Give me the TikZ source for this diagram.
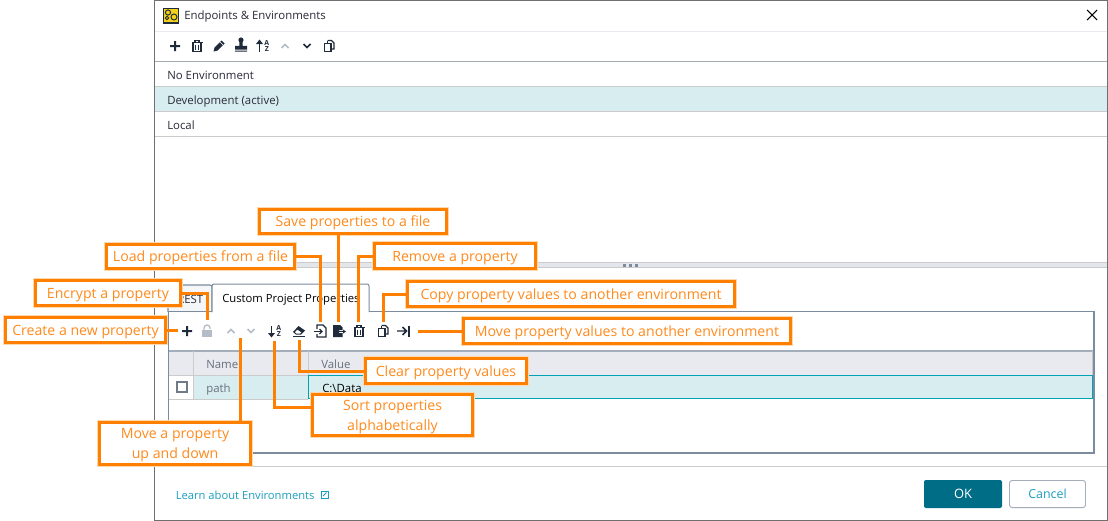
\documentclass[tikz,border=0pt]{standalone}
\usepackage{fontspec}
\setmainfont{Open Sans}
\definecolor{co}{HTML}{FF7F00}
\definecolor{cot}{HTML}{FF8A1C}
\definecolor{cohalo}{HTML}{FFD9AE}
\definecolor{slate}{HTML}{7C8B9D}
\definecolor{win}{HTML}{707070}
\definecolor{sep}{HTML}{CBCBCB}
\definecolor{rowsel}{HTML}{D8EDF0}
\definecolor{hdr}{HTML}{E8EAEF}
\definecolor{teal}{HTML}{00A3B4}
\definecolor{okb}{HTML}{006D87}
\definecolor{link}{HTML}{1C9EBE}
\definecolor{ink}{HTML}{1F2A3A}
\definecolor{dim}{HTML}{B4BCC8}
\definecolor{txt}{HTML}{2B2B3A}
\definecolor{gtx}{HTML}{68707C}
\definecolor{ico}{HTML}{F2D21A}
\tikzset{
  x=0.75pt,y=-0.75pt,
  callout/.style={rectangle,draw=co,line width=2.25pt,fill=white,text=cot,inner sep=0pt,align=center,
    font=\fontsize{10.6pt}{15pt}\selectfont,preaction={draw=cohalo,line width=3.6pt}},
  conn/.style={draw=co,line width=2.25pt},
  uitext/.style={inner sep=0pt,anchor=base west,text=txt,font=\fontsize{8.55pt}{11pt}\selectfont},
  hair/.style={line width=0.75pt},
  icn/.style={draw=ink,line width=0.9pt,fill=none},
  icf/.style={fill=ink,draw=none},
}
\newcommand{\icplus}[3]{\fill[#3] (#1-5,#2-1) rectangle (#1+5,#2+1) (#1-1,#2-5) rectangle (#1+1,#2+5);}
\newcommand{\ictrash}[2]{\begin{scope}[shift={(#1,#2)}]
  \draw[icn] (-4,-3.5) rectangle (4,5.5); \draw[icn] (-5.5,-3.5) -- (5.5,-3.5); \draw[icn] (-2,-3.5) -- (-2,-5.5) -- (2,-5.5) -- (2,-3.5);
  \draw[icn] (-1.5,-1.5) -- (-1.5,3.5) (1.5,-1.5) -- (1.5,3.5);\end{scope}}
\newcommand{\iccopy}[2]{\begin{scope}[shift={(#1,#2)}]
  \draw[icn] (-1.5,-5.5) -- (2.5,-5.5) -- (5,-3) -- (5,3) -- (2,3); \draw[icn] (-4.5,-2.5) rectangle (2,5.5); \draw[icn] (-1.5,-5.5) -- (-1.5,-2.5);\end{scope}}
\newcommand{\icsort}[3]{\begin{scope}[shift={(#1,#2)}]
  \draw[ink,line width=1.2pt] (-3.5,#3*-5.5) -- (-3.5,#3*5.5);
  \fill[ink] (-7,#3*-2) -- (-3.5,#3*-6.5) -- (0,#3*-2) -- cycle;
  \node[inner sep=0pt,text=ink,font=\bfseries\fontsize{5.2pt}{5pt}\selectfont] (#1a) at (3.8,-3) {A};
  \node[inner sep=0pt,text=ink,font=\bfseries\fontsize{5.2pt}{5pt}\selectfont] (#1z) at (3.8,3.4) {Z};
  \end{scope}}
\newcommand{\icup}[3]{\draw[#3,line width=1.2pt] (#1-3.5,#2+2) -- (#1,#2-1.5) -- (#1+3.5,#2+2);}
\newcommand{\icdown}[3]{\draw[#3,line width=1.2pt] (#1-3.5,#2-2) -- (#1,#2+1.5) -- (#1+3.5,#2-2);}
\begin{document}
\begin{tikzpicture}
\useasboundingbox (0,0) rectangle (1108,521);
\fill[white] (0,0) rectangle (1108,521);
% window
\fill[rowsel] (155,87) rectangle (1107,111);
\draw[win,line width=1pt] (154.6,521) -- (154.6,0.6) -- (1107.4,0.6) -- (1107.4,520.4) -- (154.6,520.4);
\draw[hair,draw=hdr] (155,31.5) -- (1107,31.5);
\draw[draw=dim!70!gray,line width=0.9pt] (155,61.5) -- (1107,61.5);
\foreach \yy in {86.5,111.5,136.5} \draw[hair,draw=sep] (155,\yy) -- (1107,\yy);
\draw[hair,draw=sep] (155,466.5) -- (1107,466.5);
% title
\fill[ink] (163,7.5) rectangle (179,23.5);
\fill[ico] (164.2,8.7) rectangle (177.8,22.3);
\draw[ink,line width=0.7pt] (168,12.5) circle (2.6) (174,17) circle (3);
\draw[ink,line width=0.7pt] (167,18) circle (1.8);
\node[uitext] (title) at (184,20) {Endpoints \& Environments};
\draw[black,line width=0.8pt] (1087,10) -- (1097,20) (1097,10) -- (1087,20);
% top toolbar
\icplus{175}{46}{ink}
\ictrash{197}{46}
\begin{scope}[shift={(219,46)}]
 \fill[ink] (-5.5,5.5) -- (-4.5,1.5) -- (2.5,-5.5) -- (5.5,-2.5) -- (-1.5,4.5) -- cycle;
 \draw[white,line width=0.5pt] (1,-4) -- (4,-1);
\end{scope}
\begin{scope}[shift={(241,46)}]
 \fill[ink] (0,-6) circle (2.6);
 \fill[ink] (-1.6,-5) rectangle (1.6,0) (-6,-0.2) rectangle (6,3.5) (-6,4.5) rectangle (6,5.7);
\end{scope}
\icsort{263}{46}{1}
\icup{285}{46}{dim}
\icdown{307}{46}{ink}
\iccopy{329}{46}
% list
\node[uitext] (noenv) at (167,79) {No Environment};
\node[uitext] (dev) at (167,104) {Development (active)};
\node[uitext] (local) at (167,129) {Local};
% splitter
\fill[fill=hdr!70!slate!50] (155,262) rectangle (1107,268);
\draw[hair,draw=sep] (155,262) -- (1107,262) (155,267.5) -- (1107,267.5);
\foreach \xx in {624,630.5,636} \fill[slate] (\xx-1.5,263.5) rectangle (\xx+1.5,266.5);
% panel and tabs
\draw[draw=slate,line width=0.8pt,fill=hdr!45] (168,312) -- (168,288) [rounded corners=1.5pt] -- (168,285) -- (212,285) -- (212,312);
\node[uitext] (rest) at (177,303) {REST};
\draw[draw=slate,hair] (168,311.5) -- (212,311.5);
\draw[draw=slate,hair] (369,311.5) -- (1094,311.5);
\draw[draw=slate,hair,fill=white,rounded corners=1.5pt] (212,312) -- (212,284) -- (369,284) -- (369,312);
\node[uitext,font=\fontsize{8.45pt}{11pt}\selectfont,text=black] (tabc) at (222,302) {Custom Project Properties};
\draw[draw=slate,line width=1.4pt] (168.5,311) -- (168.5,453) -- (1094,453) -- (1094,311);
% table
\fill[hdr] (169,351) rectangle (1093,375);
\draw[draw=slate!70,line width=0.9pt] (169,351) -- (1093,351);
\draw[hair,draw=sep] (193.5,351) -- (193.5,399) (308.5,351) -- (308.5,375) (1092.5,351) -- (1092.5,375);
\fill[rowsel] (194,376) rectangle (1093,399);
\draw[hair,draw=sep] (169,375.5) -- (308,375.5) (169,399.5) -- (308,399.5);
\draw[draw=teal,line width=0.8pt] (308.5,375.5) rectangle (1092.7,398.7);
\draw[draw=gtx!60!slate,line width=1pt] (177,382) rectangle (187,392);
\node[uitext,text=gtx] (hname) at (206,368) {Name};
\node[uitext,text=gtx] (hval) at (321,368) {Value};
\node[uitext,text=gtx] (cpath) at (206,392) {path};
\node[uitext,text=black] (cval) at (322,392) {C:\textbackslash Data};
% lower toolbar
\icplus{187}{331}{ink}
\begin{scope}[shift={(207,331)}]
 \fill[dim] (-5,-1) rectangle (5,6);
 \draw[dim,line width=1pt] (-3,-1) -- (-3,-3) arc (180:360:3) -- (3,-2);
\end{scope}
\icup{231}{331}{dim}
\icdown{251}{331}{dim}
\icsort{275}{331}{-1}
\begin{scope}[shift={(299,331)}]
 \fill[ink] (-6,1) -- (-0.5,-5) -- (6,-0.5) -- (2,3.5) -- (-3,3.5) -- cycle;
 \fill[white] (-4,1) -- (-1.5,-1.2) -- (2.3,1.5) -- (1,2.6) -- (-2.5,2.6) -- cycle;
 \draw[ink,line width=0.8pt] (-6,5.5) -- (6,5.5);
\end{scope}
\begin{scope}[shift={(320,331)}]
 \draw[icn] (-3,-2) -- (-3,-6) -- (3,-6) -- (6,-3) -- (6,6) -- (-3,6) -- (-3,3);
 \draw[icn] (-6.5,0.5) -- (2,0.5); \draw[icn] (-0.5,-2) -- (2,0.5) -- (-0.5,3);
\end{scope}
\begin{scope}[shift={(339,331)}]
 \fill[ink] (-6,-6) -- (1,-6) -- (3.5,-3.5) -- (3.5,-1) -- (0,-1) -- (0,2) -- (3.5,2) -- (3.5,6) -- (-6,6) -- cycle;
 \draw[ink,line width=0.9pt] (0,0.5) -- (6,0.5);
 \fill[ink] (4,-1.5) -- (7,0.5) -- (4,2.5) -- cycle;
\end{scope}
\ictrash{359}{331}
\iccopy{383}{331}
\begin{scope}[shift={(403,331)}]
 \draw[ink,line width=1.1pt] (-6,0) -- (3,0) (-0.5,-4) -- (3.5,0) -- (-0.5,4);
 \draw[ink,line width=1.3pt] (6,-5.5) -- (6,5.5);
\end{scope}
% footer
\node[uitext,text=link,font=\fontsize{8.4pt}{11pt}\selectfont] (learn) at (175.5,499) {Learn about Environments};
\draw[draw=link,line width=0.7pt] (321,491) rectangle (328,498);
\draw[draw=link,line width=0.7pt] (323,496) -- (326.5,492.5);
\node[rectangle,fill=okb,rounded corners=1.5pt,minimum width=58.5pt,minimum height=21pt,inner sep=0pt,text=white,font=\fontsize{9.7pt}{11pt}\selectfont] (ok) at (963,494) {OK};
\node[rectangle,draw=slate!70,fill=white,rounded corners=2pt,line width=0.7pt,minimum width=57pt,minimum height=20.3pt,inner sep=0pt,text=link,font=\fontsize{9.3pt}{11pt}\selectfont] (cancel) at (1047.5,494) {Cancel};
% callouts: left, top, right, bottom in pixels
\newcommand{\callout}[6]{\node[callout,minimum width={(#4-#2-3)*0.75pt},minimum height={(#5-#3-3)*0.75pt}] (#1) at ({(#2+#4)/2},{(#3+#5)/2}) {\rule{0pt}{10.6pt}#6};}
\callout{enc}{34}{279}{182}{307}{Encrypt a property}
\callout{create}{4}{316}{167}{344}{Create a new property}
\callout{moveud}{98}{421}{252}{466}{Move a property\\up and down}
\callout{savef}{258}{208}{448}{235}{Save properties to a file}
\callout{loadf}{105}{243}{296}{270}{Load properties from a file}
\callout{remove}{373}{242}{537}{270}{Remove a property}
\callout{copyv}{406}{280}{736}{308}{Copy property values to another environment}
\callout{movev}{462}{317}{792}{345}{Move property values to another environment}
\callout{clear}{364}{357}{528}{385}{Clear property values}
\callout{sortp}{311}{393}{474}{437}{Sort properties\\alphabetically}
% connector ends
\coordinate (encE) at (207,320);
\coordinate (createE) at (178,330);
\coordinate (moveudE) at (240,338);
\coordinate (sortB) at (274,407);
\coordinate (sortE) at (274,341);
\coordinate (clearE) at (299,340);
\coordinate (loadE) at (320,322);
\coordinate (saveE) at (338,322);
\coordinate (removeE) at (358,322);
\coordinate (copyE) at (383,322);
\coordinate (moveE) at (418,331);
\draw[conn] (enc) -| (encE);
\draw[conn] (create) -- (create.east |- createE) -- (createE);
\draw[conn] (moveud.north -| moveudE) -- (moveudE);
\draw[conn] (sortB -| sortp.west) -- (sortB) -- (sortE);
\draw[conn] (clear) -| (clearE);
\draw[conn] (loadf) -| (loadE);
\draw[conn] (savef.south -| saveE) -- (saveE);
\draw[conn] (remove) -| (removeE);
\draw[conn] (copyv) -| (copyE);
\draw[conn] (movev) -- (moveE);
\end{tikzpicture}
\end{document}
